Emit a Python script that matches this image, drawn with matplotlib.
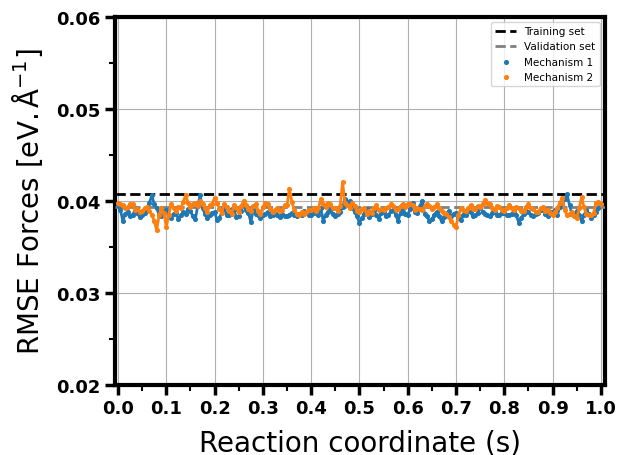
import numpy as np
import matplotlib
matplotlib.use("Agg")
import matplotlib.pyplot as plt
from matplotlib.ticker import MultipleLocator

s = np.linspace(0.0, 1.0, 201)

mech1 = [0.0395, 0.0390, 0.0378, 0.0386, 0.0388, 0.0383, 0.0385, 0.0389, 0.0387, 0.0382,
         0.0384, 0.0387, 0.0390, 0.0398, 0.0406, 0.0396, 0.0392, 0.0385, 0.0383, 0.0389,
         0.0390, 0.0384, 0.0381, 0.0386, 0.0387, 0.0380, 0.0384, 0.0388, 0.0386, 0.0391,
         0.0389, 0.0383, 0.0380, 0.0394, 0.0406, 0.0392, 0.0386, 0.0381, 0.0384, 0.0387,
         0.0388, 0.0379, 0.0381, 0.0388, 0.0392, 0.0384, 0.0385, 0.0391, 0.0390, 0.0382,
         0.0383, 0.0389, 0.0396, 0.0390, 0.0387, 0.0377, 0.0390, 0.0386, 0.0385, 0.0381,
         0.0384, 0.0386, 0.0388, 0.0383, 0.0385, 0.0387, 0.0384, 0.0382, 0.0386, 0.0383,
         0.0383, 0.0385, 0.0387, 0.0384, 0.0383, 0.0386, 0.0385, 0.0389, 0.0388, 0.0384,
         0.0384, 0.0387, 0.0388, 0.0385, 0.0392, 0.0378, 0.0385, 0.0388, 0.0390, 0.0386,
         0.0383, 0.0386, 0.0388, 0.0393, 0.0402, 0.0399, 0.0400, 0.0392, 0.0388, 0.0383,
         0.0376, 0.0381, 0.0386, 0.0391, 0.0382, 0.0386, 0.0390, 0.0384, 0.0380, 0.0387,
         0.0388, 0.0383, 0.0384, 0.0389, 0.0390, 0.0385, 0.0378, 0.0387, 0.0392, 0.0386,
         0.0385, 0.0391, 0.0398, 0.0388, 0.0387, 0.0394, 0.0400, 0.0386, 0.0383, 0.0378,
         0.0380, 0.0385, 0.0388, 0.0383, 0.0378, 0.0382, 0.0386, 0.0389, 0.0383, 0.0386,
         0.0387, 0.0381, 0.0379, 0.0384, 0.0385, 0.0389, 0.0388, 0.0383, 0.0384, 0.0387,
         0.0393, 0.0388, 0.0386, 0.0384, 0.0383, 0.0387, 0.0388, 0.0385, 0.0385, 0.0387,
         0.0387, 0.0385, 0.0384, 0.0386, 0.0389, 0.0384, 0.0376, 0.0381, 0.0386, 0.0389,
         0.0388, 0.0385, 0.0383, 0.0386, 0.0387, 0.0390, 0.0391, 0.0386, 0.0383, 0.0388,
         0.0388, 0.0390, 0.0385, 0.0393, 0.0398, 0.0402, 0.0407, 0.0395, 0.0386, 0.0384,
         0.0389, 0.0385, 0.0378, 0.0384, 0.0390, 0.0386, 0.0381, 0.0384, 0.0388, 0.0392,
         0.0397]

mech2 = [0.0398, 0.0396, 0.0395, 0.0392, 0.0393, 0.0397, 0.0396, 0.0390, 0.0391, 0.0388,
         0.0389, 0.0392, 0.0393, 0.0389, 0.0385, 0.0378, 0.0368, 0.0384, 0.0392, 0.0387,
         0.0371, 0.0385, 0.0396, 0.0392, 0.0389, 0.0393, 0.0392, 0.0399, 0.0406, 0.0398,
         0.0393, 0.0396, 0.0398, 0.0394, 0.0400, 0.0396, 0.0392, 0.0388, 0.0395, 0.0397,
         0.0403, 0.0398, 0.0391, 0.0387, 0.0397, 0.0393, 0.0389, 0.0386, 0.0395, 0.0392,
         0.0388, 0.0394, 0.0400, 0.0395, 0.0391, 0.0389, 0.0394, 0.0396, 0.0389, 0.0386,
         0.0393, 0.0398, 0.0396, 0.0391, 0.0388, 0.0390, 0.0392, 0.0389, 0.0390, 0.0395,
         0.0395, 0.0413, 0.0399, 0.0390, 0.0386, 0.0385, 0.0388, 0.0386, 0.0388, 0.0390,
         0.0390, 0.0392, 0.0389, 0.0392, 0.0402, 0.0396, 0.0393, 0.0398, 0.0396, 0.0392,
         0.0392, 0.0389, 0.0394, 0.0420, 0.0398, 0.0395, 0.0392, 0.0398, 0.0394, 0.0389,
         0.0388, 0.0391, 0.0392, 0.0386, 0.0389, 0.0387, 0.0392, 0.0395, 0.0390, 0.0391,
         0.0390, 0.0392, 0.0393, 0.0396, 0.0394, 0.0390, 0.0391, 0.0394, 0.0397, 0.0393,
         0.0396, 0.0397, 0.0395, 0.0390, 0.0392, 0.0391, 0.0390, 0.0394, 0.0397, 0.0394,
         0.0391, 0.0393, 0.0396, 0.0392, 0.0389, 0.0387, 0.0386, 0.0382, 0.0378, 0.0374,
         0.0372, 0.0384, 0.0392, 0.0390, 0.0389, 0.0392, 0.0395, 0.0391, 0.0391, 0.0394,
         0.0393, 0.0397, 0.0401, 0.0398, 0.0396, 0.0392, 0.0390, 0.0394, 0.0393, 0.0390,
         0.0389, 0.0392, 0.0395, 0.0392, 0.0390, 0.0393, 0.0392, 0.0389, 0.0389, 0.0393,
         0.0396, 0.0392, 0.0391, 0.0388, 0.0388, 0.0392, 0.0393, 0.0389, 0.0390, 0.0387,
         0.0385, 0.0388, 0.0392, 0.0398, 0.0403, 0.0390, 0.0384, 0.0386, 0.0388, 0.0383,
         0.0381, 0.0392, 0.0404, 0.0393, 0.0386, 0.0384, 0.0384, 0.0387, 0.0398, 0.0399,
         0.0396]

training_rmse = 0.04076
validation_rmse = 0.03935

fig = plt.figure(figsize=(6.19, 4.56), dpi=100)
ax = fig.add_axes([0.186, 0.154, 0.791, 0.807])

ax.axhline(training_rmse, color="black", ls="--", lw=2, label="Training set", zorder=3)
ax.axhline(validation_rmse, color="grey", ls="--", lw=2, label="Validation set", zorder=3)

ax.plot(s, mech1, color="#1f77b4", lw=2, zorder=4)
ax.scatter(s, mech1, color="#1f77b4", s=7, label="Mechanism 1", zorder=4)
ax.plot(s, mech2, color="#ff7f0e", lw=2, zorder=5)
ax.scatter(s, mech2, color="#ff7f0e", s=7, label="Mechanism 2", zorder=5)

ax.xaxis.set_major_locator(MultipleLocator(0.1))
ax.yaxis.set_major_locator(MultipleLocator(0.01))
ax.yaxis.set_minor_locator(MultipleLocator(0.005))
ax.xaxis.set_minor_locator(MultipleLocator(0.05))
ax.grid(True, which="major", color="#b0b0b0", lw=0.8)

for sp in ax.spines.values():
    sp.set_linewidth(3)
ax.tick_params(which="major", length=7, width=2.5, labelsize=13)
ax.tick_params(which="minor", length=4, width=1.5)
yt = np.arange(0.02, 0.0601, 0.01)
xt = np.arange(0.0, 1.001, 0.1)
ax.set_yticks(yt)
ax.set_yticklabels([f"{v:.2f}" for v in yt], fontweight="bold")
ax.set_xticks(xt)
ax.set_xticklabels([f"{v:.1f}" for v in xt], fontweight="bold")
ax.set_xlim(-0.006, 1.008)
ax.set_ylim(0.02, 0.06)

ax.set_xlabel("Reaction coordinate (s)", fontsize=20, labelpad=8)
ax.set_ylabel(r"RMSE Forces [eV.$\,\mathrm{\AA}^{-1}$]", fontsize=20, labelpad=8)

ax.legend(loc="upper right", fontsize=7.5, framealpha=0.8)

fig.savefig("out.png", dpi=100)
